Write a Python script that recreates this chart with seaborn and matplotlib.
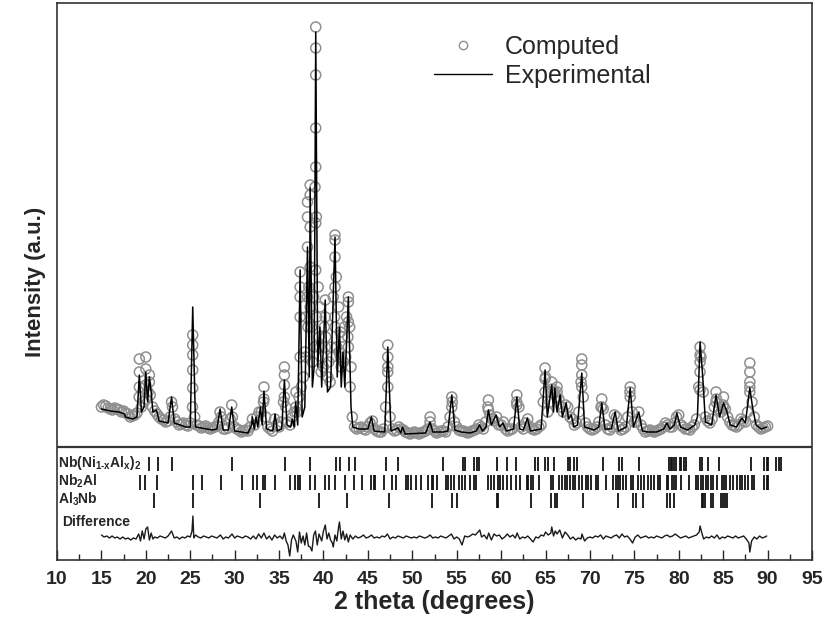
import numpy as np
import pandas as pd
import matplotlib
matplotlib.use("Agg")
import matplotlib.pyplot as plt
from matplotlib.lines import Line2D
from matplotlib.ticker import MultipleLocator
import seaborn as sns

# --- datos -----------------------------------------------------------------
# patron experimental (2theta, intensidad u.a.)
exp_2theta = [15.0, 16.0, 17.0, 17.6, 17.7, 18.5, 19.0, 19.27, 19.5, 19.8, 20.0, 20.2, 20.4, 20.6,
              20.8, 21.2, 21.5, 22.5, 22.9, 23.2, 24.5, 25.0, 25.28, 25.6, 27.5, 28.0, 28.36, 28.7,
              29.3, 29.67, 30.0, 31.5, 31.9, 32.0, 32.2, 32.4, 32.6, 32.9, 33.1, 33.3, 33.6, 34.3,
              34.55, 34.8, 35.3, 35.6, 35.9, 36.3, 36.5, 36.7, 36.87, 37.1, 37.37, 37.6, 37.9, 38.2,
              38.4, 38.5, 38.75, 38.95, 39.13, 39.35, 39.6, 39.8, 40.2, 40.45, 40.8, 41.3, 41.55,
              41.8, 42.0, 42.2, 42.4, 42.8, 43.1, 43.3, 44.0, 45.0, 45.4, 45.7, 46.9, 47.24, 47.6,
              48.4, 48.7, 48.9, 49.2, 51.5, 52.0, 52.3, 53.5, 54.0, 54.45, 54.8, 55.5, 56.5, 57.2,
              57.56, 57.9, 58.3, 58.57, 58.9, 59.44, 59.8, 60.2, 60.6, 61.4, 61.77, 62.1, 62.5,
              62.96, 63.3, 64.5, 64.95, 65.2, 65.7, 65.9, 66.05, 66.3, 66.64, 66.9, 67.32, 67.6,
              67.9, 68.2, 68.6, 69.08, 69.4, 70.5, 71.0, 71.33, 71.7, 72.4, 72.84, 73.2, 74.1,
              74.53, 74.9, 75.5, 75.9, 76.5, 77.5, 78.3, 78.66, 79.0, 79.5, 79.78, 80.2, 81.0,
              81.8, 82.1, 82.4, 82.7, 83.0, 83.7, 84.2, 84.6, 85.04, 85.4, 85.8, 86.5, 87.1, 87.5,
              88.0, 88.3, 88.7, 89.3, 89.9]
exp_int = [38, 36, 35, 33, 30, 28, 30, 72, 35, 40, 75, 45, 70, 55,
           35, 37, 26, 24, 50, 24, 20, 20, 140, 20, 17, 18, 38, 17,
           17, 40, 16, 14, 22, 30, 18, 30, 20, 40, 22, 56, 18, 16,
           33, 16, 18, 67, 22, 20, 28, 20, 45, 22, 177, 30, 40, 200,
           70, 259, 60, 80, 415, 80, 120, 60, 147, 55, 60, 210, 70,
           120, 60, 95, 60, 150, 40, 20, 18, 18, 30, 16, 15, 100, 16,
           19, 14, 20, 13, 14, 25, 15, 15, 16, 52, 17, 15, 14, 16,
           22, 16, 20, 37, 22, 32, 20, 24, 16, 18, 50, 18, 17,
           29, 16, 18, 77, 30, 62, 35, 59, 35, 52, 30, 44, 28,
           32, 20, 22, 74, 20, 17, 20, 44, 18, 18, 35, 16, 20,
           59, 20, 35, 16, 15, 15, 18, 24, 18, 22, 34, 20, 17,
           22, 30, 105, 70, 25, 22, 52, 30, 44, 36, 22, 20, 29, 24,
           59, 40, 22, 18, 20]

# patron calculado: banda de fondo + columnas de los picos
comp_2theta = [15.0, 15.5, 16.0, 16.5, 17.0, 17.5, 18.0, 18.5, 19.0, 19.5, 20.0, 20.5, 21.0, 21.5,
               22.0, 22.5, 23.0, 23.5, 24.0, 24.5, 25.0, 25.5, 26.0, 26.5, 27.0, 27.5, 28.0, 28.5,
               29.0, 29.5, 30.0, 30.5, 31.0, 31.5, 32.0, 32.5, 33.0, 33.5, 34.0, 34.5, 35.0, 35.5,
               36.0, 36.5, 37.0, 37.5, 38.0, 38.5, 39.0, 39.5, 40.0, 40.5, 41.0, 41.5, 42.0, 42.5,
               43.0, 43.5, 44.0, 44.5, 45.0, 45.5, 46.0, 46.5, 47.0, 47.5, 48.0, 48.5, 49.0, 49.5,
               50.0, 50.5, 51.0, 51.5, 52.0, 52.5, 53.0, 53.5, 54.0, 54.5, 55.0, 55.5, 56.0, 56.5,
               57.0, 57.5, 58.0, 58.5, 59.0, 59.5, 60.0, 60.5, 61.0, 61.5, 62.0, 62.5, 63.0, 63.5,
               64.0, 64.5, 65.0, 65.5, 66.0, 66.5, 67.0, 67.5, 68.0, 68.5, 69.0, 69.5, 70.0, 70.5,
               71.0, 71.5, 72.0, 72.5, 73.0, 73.5, 74.0, 74.5, 75.0, 75.5, 76.0, 76.5, 77.0, 77.5,
               78.0, 78.5, 79.0, 79.5, 80.0, 80.5, 81.0, 81.5, 82.0, 82.5, 83.0, 83.5, 84.0, 84.5,
               85.0, 85.5, 86.0, 86.5, 87.0, 87.5, 88.0, 88.5, 89.0, 89.5, 90.0,
               19.27, 19.27, 19.27, 20.0, 20.0, 20.0, 20.4, 20.4, 22.9,
               25.28, 25.28, 25.28, 25.28, 25.28, 28.36, 29.67, 33.3, 33.3,
               35.6, 35.6, 35.6, 35.6, 36.9, 36.9,
               37.37, 37.37, 37.37, 37.37, 37.37, 38.2, 38.2, 38.2, 38.2,
               38.5, 38.5, 38.5, 38.5, 39.13, 39.13, 39.13, 39.13, 39.13, 39.13, 39.13,
               39.6, 39.6, 40.2, 40.2, 40.2, 41.3, 41.3, 41.3, 41.3, 41.3,
               41.9, 41.9, 42.8, 42.8, 42.8, 42.8, 47.24, 47.24, 47.24, 47.24,
               52.0, 54.45, 54.45, 58.57, 58.57, 61.77, 61.77, 64.95, 64.95, 64.95,
               65.7, 65.7, 66.3, 66.3, 69.08, 69.08, 69.08, 69.08, 71.33, 71.33,
               74.53, 74.53, 82.4, 82.4, 82.4, 82.4, 82.4, 84.2, 84.2, 85.04, 85.04,
               88.0, 88.0, 88.0, 88.0]
comp_int = [40, 41, 38, 39, 37, 36, 33, 31, 34, 40, 48, 52, 36, 30,
            27, 26, 40, 25, 23, 22, 24, 30, 21, 20, 19, 19, 21, 30,
            18, 28, 20, 17, 16, 16, 28, 30, 35, 30, 18, 28, 20, 45,
            25, 30, 35, 60, 90, 140, 100, 110, 80, 70, 90, 100, 80, 90,
            60, 20, 19, 18, 20, 26, 16, 15, 40, 30, 16, 20, 17, 14,
            14, 14, 14, 16, 25, 16, 15, 16, 20, 45, 20, 16, 15, 15,
            17, 22, 18, 40, 28, 30, 22, 18, 17, 25, 40, 18, 28, 18,
            18, 22, 70, 45, 55, 48, 35, 40, 28, 24, 65, 24, 18, 18,
            25, 38, 18, 20, 30, 17, 20, 55, 25, 35, 18, 16, 16, 16,
            18, 24, 20, 24, 32, 20, 18, 20, 28, 90, 30, 24, 40, 38,
            42, 30, 22, 20, 28, 25, 60, 30, 20, 19, 21,
            60, 75, 88, 62, 78, 90, 65, 72, 45,
            59, 77, 92, 102, 112, 35, 42, 48, 60,
            50, 62, 72, 80, 40, 55,
            90, 130, 150, 160, 175, 150, 200, 230, 245,
            180, 220, 252, 262, 177, 224, 280, 319, 372, 399, 420,
            100, 140, 100, 130, 147, 120, 160, 190, 207, 212,
            90, 115, 100, 125, 145, 150, 60, 75, 90, 102,
            30, 40, 50, 37, 47, 42, 52, 55, 68, 79,
            55, 65, 55, 60, 60, 72, 82, 88, 40, 48,
            50, 60, 57, 75, 85, 92, 100, 45, 55, 40, 50,
            55, 65, 75, 84]
# puntos calculados intermedios (2theta, intensidad)
comp_intermedios = [
    (15.25, 42), (15.75, 39), (16.25, 37), (16.75, 38), (17.25, 35), (17.75, 34), (18.25, 30),
    (18.75, 32), (19.25, 50), (19.75, 45), (20.25, 55), (20.75, 40), (21.25, 33), (21.75, 28),
    (22.25, 25), (22.75, 30), (23.25, 28), (23.75, 22), (24.25, 24), (24.75, 21), (25.25, 40),
    (25.75, 22), (26.25, 19), (26.75, 21), (27.25, 18), (27.75, 20), (28.25, 25), (28.75, 18),
    (29.25, 19), (29.75, 30), (30.25, 18), (30.75, 15), (31.25, 17), (31.75, 20), (32.25, 22),
    (32.75, 35), (33.25, 45), (33.75, 20), (34.25, 16), (34.75, 22), (35.25, 25), (35.75, 40),
    (36.25, 22), (36.75, 35), (37.25, 50), (37.75, 70), (38.25, 120), (38.75, 85), (39.25, 130),
    (39.75, 75), (40.25, 110), (40.75, 65), (41.25, 130), (41.75, 95), (42.25, 85), (42.75, 110),
    (43.25, 30), (43.75, 18), (44.25, 20), (44.75, 17), (45.25, 24), (45.75, 18), (46.25, 15),
    (46.75, 18), (47.25, 80), (47.75, 18), (48.25, 17), (48.75, 18), (49.25, 15), (49.75, 13),
    (50.25, 15), (50.75, 13), (51.25, 15), (51.75, 18), (52.25, 18), (52.75, 14), (53.25, 16),
    (53.75, 15), (54.25, 30), (54.75, 25), (55.25, 17), (55.75, 16), (56.25, 14), (56.75, 16),
    (57.25, 18), (57.75, 20), (58.25, 25), (58.75, 32), (59.25, 26), (59.75, 22), (60.25, 25),
    (60.75, 16), (61.25, 18), (61.75, 45), (62.25, 20), (62.75, 24), (63.25, 20), (63.75, 17),
    (64.25, 20), (64.75, 45), (65.25, 35), (65.75, 58), (66.25, 50), (66.75, 40), (67.25, 42),
    (67.75, 30), (68.25, 22), (68.75, 35), (69.25, 50), (69.75, 20), (70.25, 17), (70.75, 20),
    (71.25, 40), (71.75, 22), (72.25, 17), (72.75, 32), (73.25, 20), (73.75, 18), (74.25, 30),
    (74.75, 35), (75.25, 25), (75.75, 22), (76.25, 15), (76.75, 17), (77.25, 15), (77.75, 17),
    (78.25, 20), (78.75, 22), (79.25, 20), (79.75, 30), (80.25, 22), (80.75, 18), (81.25, 17),
    (81.75, 22), (82.25, 60), (82.75, 55), (83.25, 26), (83.75, 28), (84.25, 48), (84.75, 35),
    (85.25, 38), (85.75, 25), (86.25, 21), (86.75, 22), (87.25, 26), (87.75, 35), (88.25, 45),
    (88.75, 22), (89.25, 18), (89.75, 20),
    # flancos de los picos intensos entre 37 y 43 grados
    (37.9, 95), (38.0, 130), (38.35, 160), (38.65, 120), (38.9, 150), (39.05, 260),
    (39.2, 230), (39.4, 160), (39.9, 90), (40.1, 120), (40.6, 85), (40.9, 100), (41.1, 150),
    (41.45, 170), (41.7, 140), (42.1, 110), (42.35, 120), (42.6, 130), (42.95, 120), (43.1, 80),
]

# curva diferencia
diff_2theta = [15.0, 15.3, 15.6, 15.9, 16.2, 16.5, 16.8, 17.1, 17.4, 17.7, 18.0, 18.3, 18.6, 18.9,
               19.2, 19.4, 19.6, 19.8, 20.0, 20.2, 20.4, 20.6, 20.8, 21.0, 21.3, 21.6, 21.9, 22.2,
               22.5, 22.9, 23.2, 23.5, 23.8, 24.1, 24.4, 24.7, 25.0, 25.2, 25.3, 25.4, 25.6, 25.9,
               26.2, 26.5, 26.8, 27.1, 27.4, 27.7, 28.0, 28.4, 28.7, 29.0, 29.3, 29.7, 30.0, 30.3,
               30.6, 30.9, 31.2, 31.5, 31.8, 32.1, 32.4, 32.7, 33.0, 33.3, 33.6, 33.9, 34.2, 34.5,
               34.8, 35.1, 35.4, 35.6, 35.8, 36.0, 36.2, 36.4, 36.6, 36.9, 37.1, 37.3, 37.5, 37.7,
               37.9, 38.1, 38.3, 38.5, 38.7, 38.9, 39.1, 39.3, 39.5, 39.8, 40.0, 40.2, 40.4, 40.6,
               40.8, 41.0, 41.1, 41.3, 41.5, 41.7, 41.8, 42.0, 42.2, 42.4, 42.6, 42.8, 43.0, 43.3,
               43.6, 43.9, 44.2, 44.5, 44.8, 45.1, 45.4, 45.7, 46.0, 46.3, 46.6, 46.9, 47.2, 47.5,
               47.8, 48.1, 48.4, 48.7, 49.0, 49.3, 49.6, 49.9, 50.2, 50.5, 50.8, 51.1, 51.4, 51.7,
               52.0, 52.3, 52.6, 52.9, 53.2, 53.5, 53.8, 54.1, 54.4, 54.7, 55.0, 55.3, 55.6, 55.9,
               56.2, 56.5, 56.8, 57.1, 57.4, 57.6, 57.8, 58.1, 58.4, 58.6, 58.9, 59.2, 59.5, 59.8,
               60.1, 60.4, 60.7, 61.0, 61.3, 61.6, 61.8, 62.1, 62.4, 62.7, 63.0, 63.3, 63.6, 63.9,
               64.2, 64.5, 64.8, 65.0, 65.3, 65.6, 65.7, 65.9, 66.1, 66.3, 66.6, 66.9, 67.2, 67.5,
               67.8, 68.1, 68.4, 68.7, 69.0, 69.1, 69.4, 69.7, 70.0, 70.3, 70.6, 70.9, 71.2, 71.5,
               71.8, 72.1, 72.4, 72.7, 73.0, 73.3, 73.6, 73.9, 74.2, 74.5, 74.8, 75.1, 75.4, 75.7,
               76.0, 76.3, 76.6, 76.9, 77.2, 77.5, 77.8, 78.1, 78.4, 78.7, 79.0, 79.3, 79.6, 79.9,
               80.2, 80.5, 80.8, 81.1, 81.4, 81.7, 82.0, 82.3, 82.4, 82.6, 82.8, 83.1, 83.4, 83.7,
               84.0, 84.3, 84.6, 84.9, 85.2, 85.5, 85.8, 86.1, 86.4, 86.7, 87.0, 87.3, 87.6, 87.9,
               88.0, 88.2, 88.5, 88.8, 89.1, 89.4, 89.7, 89.9]
diff_val = [2, 0, 1, -1, 1, -1, 0, -2, 0, -2, -1, -3, -1, -2,
            3, -4, 6, -2, 8, 10, -3, 4, -2, 0, -1, 1, 0, -1,
            1, 6, -1, 0, -2, 0, -1, 1, 0, 6, 21, -1, 2, 0,
            -1, 1, 0, -1, 1, 0, -1, 2, -2, 0, -1, 3, -1, 1,
            0, -1, 1, 0, -2, 1, -2, 3, -1, 4, -2, 1, -3, 2,
            -1, 1, -2, 4, -4, -8, -19, -3, 2, -4, -15, 5, -6, 1,
            -8, 4, -9, -10, -14, 2, 6, -8, 3, -4, 6, 12, -2, 4,
            -3, -6, -10, 2, -4, 10, 15, -2, 6, -3, 3, -5, 2, -2,
            1, -1, 0, 2, -1, 0, 2, -1, 0, -1, 1, 0, 3, -2,
            0, -1, 1, 0, -1, 1, 0, -1, 0, -1, 1, 0, -1, 0,
            2, -1, 0, -1, 1, 0, -1, 1, 3, -2, 0, -2, -8, 1,
            0, 1, 3, 2, 5, 7, 0, 2, -2, 4, -3, 3, 1, 2,
            -2, 0, 3, 0, 2, -1, 4, -2, 0, -1, 1, -2, -5, 0,
            -1, 2, 1, 5, 2, 4, 10, 1, 6, 3, 7, -1, 5, 2,
            -2, 0, -3, -1, -2, 3, -4, -1, 0, -1, 1, 0, 2, -2,
            1, 0, -1, 1, 2, -1, 3, 0, 1, -2, -6, 0, 2, -1,
            0, 1, -1, 0, -1, 1, 0, -1, 1, 2, 0, 1, 3, 1,
            -1, 0, 1, -1, 0, 1, 2, 5, 11, 4, -2, 0, -1, 1,
            -1, 2, -2, 0, -1, 1, 0, -1, 1, -1, 0, 1, -2, -6,
            -15, -4, 0, -2, 1, -1, 0, 1]

# posiciones de reflexiones de Bragg por fase
fases = [r"Nb(Ni$_{1\text{-}x}$Al$_x$)$_2$", r"Nb$_2$Al", r"Al$_3$Nb"]
refl_nbni = [20.39, 21.34, 23.0, 29.67, 35.64, 38.53, 41.42, 41.9, 42.92, 43.52, 47.05, 48.4,
             53.5, 55.75, 55.9, 56.96, 57.33, 57.52, 59.51, 60.64, 61.65, 63.87, 64.13, 64.99,
             65.26, 65.93, 67.51, 67.77, 68.25, 68.52, 71.45, 73.32, 73.59, 75.57, 78.88, 79.11,
             79.26, 79.48, 79.74, 80.12, 80.3, 80.61, 80.87, 82.38, 82.56, 83.31, 84.55, 88.12,
             89.62, 89.88, 90.07, 91.0, 91.27, 91.56]
refl_nb2al = [19.35, 19.91, 21.23, 25.35, 26.3, 28.43, 30.8, 32.04, 32.49, 33.23, 33.39, 34.52,
              36.27, 36.84, 37.14, 37.4, 38.46, 39.09, 40.22, 40.67, 41.34, 42.4, 43.41, 44.35,
              45.4, 45.66, 45.84, 46.79, 47.72, 48.14, 49.27, 49.53, 49.83, 50.39, 50.96, 51.81,
              52.2, 52.38, 52.76, 53.77, 54.03, 54.4, 54.71, 55.27, 55.64, 55.91, 56.51, 56.96,
              57.15, 58.54, 58.84, 59.21, 59.66, 59.89, 60.26, 60.64, 61.09, 61.66, 62.14, 62.96,
              63.0, 63.38, 63.64, 64.25, 65.63, 65.83, 66.57, 66.88, 67.14, 67.41, 67.7, 68.08,
              68.37, 68.75, 69.12, 69.5, 69.77, 70.14, 70.7, 70.9, 71.83, 72.59, 72.88, 73.15,
              73.4, 73.7, 74.08, 74.64, 74.83, 75.39, 75.77, 76.14, 76.52, 76.89, 77.26, 77.64,
              77.87, 78.62, 78.81, 79.26, 79.48, 79.74, 80.3, 81.14, 81.99, 82.18, 82.49, 82.75,
              83.12, 83.31, 83.62, 83.87, 84.25, 84.92, 85.11, 85.37, 85.75, 86.13, 86.61, 86.88,
              87.14, 87.51, 87.82, 88.19, 88.49, 89.62, 89.88, 90.07]
refl_al3nb = [20.92, 25.35, 32.86, 39.47, 42.66, 47.35, 52.26, 54.52, 55.01, 59.51, 59.66,
              63.38, 65.63, 66.12, 66.27, 69.2, 73.15, 74.9, 75.2, 75.96, 78.73, 79.0, 79.48,
              82.56, 82.75, 82.94, 83.62, 83.87, 84.74, 85.0, 85.19, 85.48]

# --- disposicion vertical (unidades de pixel del eje) ------------------------
DESPLAZ_PATRON = 113
DESPLAZ_DIF = 23
FILAS = [(89, 103), (70, 85), (52, 67)]
Y_ETIQ = [97, 79, 61]
GRIS = "#8f8f8f"

sns.set_theme(style="ticks")
plt.rcParams["font.family"] = ["Liberation Sans", "DejaVu Sans"]
plt.rcParams["mathtext.fontset"] = "custom"
plt.rcParams["mathtext.rm"] = "Liberation Sans:bold"
plt.rcParams["mathtext.it"] = "Liberation Sans:bold"
plt.rcParams["mathtext.bf"] = "Liberation Sans:bold"

comp_x = comp_2theta + [p[0] for p in comp_intermedios]
comp_y = comp_int + [p[1] for p in comp_intermedios]

df_exp = pd.DataFrame({"x": exp_2theta, "y": np.array(exp_int) + DESPLAZ_PATRON})
df_comp = pd.DataFrame({"x": comp_x, "y": np.array(comp_y) + DESPLAZ_PATRON})
df_dif = pd.DataFrame({"x": diff_2theta, "y": np.array(diff_val) + DESPLAZ_DIF})

fig = plt.figure(figsize=(8.24, 6.2), dpi=100)
ax = fig.add_axes([57 / 824, 1 - 560 / 620, 755 / 824, 557 / 620])

sc = sns.scatterplot(data=df_comp, x="x", y="y", ax=ax, s=52, marker="o", zorder=2, legend=False)
sc.collections[0].set_facecolor("none")
sc.collections[0].set_edgecolor(GRIS)
sc.collections[0].set_linewidth(1.1)
sns.lineplot(data=df_exp, x="x", y="y", ax=ax, color="black", lw=1.1,
             estimator=None, sort=False, zorder=3)
sns.lineplot(data=df_dif, x="x", y="y", ax=ax, color="#1a1a1a", lw=1.0,
             estimator=None, sort=False, zorder=3)

for refl, (y0, y1) in zip([refl_nbni, refl_nb2al, refl_al3nb], FILAS):
    ax.vlines(refl, y0, y1, color="#111111", lw=1.3)

for etiq, yy in zip(fases, Y_ETIQ):
    ax.text(10.12, yy, etiq, fontsize=10, fontweight="bold", va="center", ha="left")
ax.text(10.6, 38, "Difference", fontsize=10, fontweight="bold", va="center", ha="left")

ax.axhline(DESPLAZ_PATRON, color="#333333", lw=1.6)

ax.set_xlim(10, 95)
ax.set_ylim(0, 557)
ax.xaxis.set_major_locator(MultipleLocator(5))
ax.xaxis.set_minor_locator(MultipleLocator(2.5))
ax.tick_params(axis="x", which="major", direction="in", length=7, width=1, labelsize=14, pad=8)
ax.tick_params(axis="x", which="minor", direction="in", length=4, width=1)
ax.set_yticks([])
for lab in ax.get_xticklabels():
    lab.set_fontweight("bold")
for sp in ax.spines.values():
    sp.set_visible(True)
    sp.set_color("#333333")
    sp.set_linewidth(1.2)

ax.set_xlabel("2 theta (degrees)", fontsize=18, fontweight="bold", labelpad=1)
ax.set_ylabel("Intensity (a.u.)", fontsize=16, fontweight="bold", labelpad=8)

manejadores = [
    Line2D([], [], ls="none", marker="o", ms=6, mfc="none", mec=GRIS, mew=1.0),
    Line2D([], [], color="black", lw=1.0),
]
ax.legend(manejadores, ["Computed", "Experimental"], loc="upper left",
          bbox_to_anchor=(434 / 824, 1 - 35 / 620), bbox_transform=fig.transFigure,
          frameon=False, borderpad=0, borderaxespad=0, handlelength=2.3,
          handletextpad=0.55, labelspacing=0.18, prop={"size": 18})

fig.savefig("out.png", dpi=100)
